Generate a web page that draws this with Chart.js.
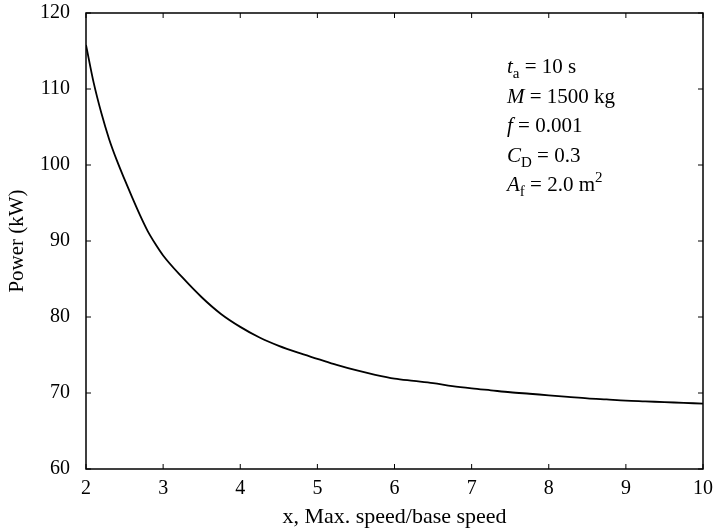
<!DOCTYPE html>
<html>
<head>
<meta charset="utf-8">
<script src="https://cdn.jsdelivr.net/npm/chart.js@4"></script>
<style>
    body { margin: 0; background: #fff; }
    #wrap { width: 713px; height: 528px; }
</style>
</head>
<body>
<div id="wrap"><canvas id="powerChart"></canvas></div>
<script>
// speed ratio (x) and power in kW
const speedRatio = [2, 2.1, 2.2, 2.3, 2.4, 2.5, 2.6, 2.7, 2.8, 2.9, 3, 3.25, 3.5, 3.75, 4, 4.25, 4.5, 4.75,
    5, 5.25, 5.5, 5.75, 6, 6.25, 6.5, 6.75, 7, 7.25, 7.5, 7.75, 8, 8.25, 8.5, 8.75, 9, 9.25, 9.5, 9.75, 10];
const powerKW = [115.8, 110.8, 106.8, 103.4, 100.6, 98.1, 95.7, 93.4, 91.3, 89.6, 88.1, 85.2, 82.6, 80.4, 78.7, 77.3, 76.2, 75.3,
    74.5, 73.7, 73.0, 72.4, 71.9, 71.6, 71.3, 70.9, 70.6, 70.35, 70.1, 69.9, 69.7, 69.5, 69.3, 69.15, 69.0, 68.9, 68.8, 68.7, 68.6];
const xTicks = [2, 3, 4, 5, 6, 7, 8, 9, 10];
const yTicks = [60, 70, 80, 90, 100, 110, 120];

const FONT = "'Liberation Serif', 'DejaVu Serif', serif";

// frame + inward ticks on all four sides
const framePlugin = {
    id: "frame",
    afterDraw(chart) {
        const { ctx, chartArea: a, scales } = chart;
        ctx.save();
        ctx.strokeStyle = "#000";
        ctx.lineWidth = 1.5;
        ctx.strokeRect(a.left, a.top, a.right - a.left, a.bottom - a.top);
        ctx.lineWidth = 1;
        const len = 5;
        ctx.beginPath();
        xTicks.forEach(v => {
            const px = scales.x.getPixelForValue(v);
            ctx.moveTo(px, a.bottom); ctx.lineTo(px, a.bottom - len);
            ctx.moveTo(px, a.top); ctx.lineTo(px, a.top + len);
        });
        yTicks.forEach(v => {
            const py = scales.y.getPixelForValue(v);
            ctx.moveTo(a.left, py); ctx.lineTo(a.left + len, py);
            ctx.moveTo(a.right, py); ctx.lineTo(a.right - len, py);
        });
        ctx.stroke();
        ctx.restore();
    }
};

// parameter block in the upper right
const notePlugin = {
    id: "note",
    afterDraw(chart) {
        const ctx = chart.ctx;
        const lines = [
            [["t", "i"], ["a", "sub"], [" = 10 s", ""]],
            [["M", "i"], [" = 1500 kg", ""]],
            [["f", "i"], [" = 0.001", ""]],
            [["C", "i"], ["D", "sub"], [" = 0.3", ""]],
            [["A", "i"], ["f", "sub"], [" = 2.0 m", ""], ["2", "sup"]]
        ];
        const x0 = 507;
        let y = 73;
        ctx.save();
        ctx.fillStyle = "#000";
        ctx.textBaseline = "alphabetic";
        lines.forEach(parts => {
            let x = x0;
            parts.forEach(([txt, kind]) => {
                let size = 21, dy = 0, style = "";
                if (kind === "i") style = "italic ";
                if (kind === "sub") { size = 15; dy = 5; }
                if (kind === "sup") { size = 15; dy = -9; }
                ctx.font = style + size + "px " + FONT;
                ctx.fillText(txt, x, y + dy);
                x += ctx.measureText(txt).width;
            });
            y += 29.5;
        });
        ctx.restore();
    }
};

document.addEventListener("DOMContentLoaded", function () {
    const ctx = document.getElementById("powerChart").getContext("2d");
    new Chart(ctx, {
        type: "scatter",
        data: {
            datasets: [{
                data: speedRatio.map((v, i) => ({ x: v, y: powerKW[i] })),
                showLine: true,
                borderColor: "#000",
                borderWidth: 1.8,
                pointRadius: 0,
                cubicInterpolationMode: "monotone"
            }]
        },
        options: {
            responsive: true,
            maintainAspectRatio: false,
            animation: false,
            layout: { padding: 0 },
            plugins: { legend: { display: false }, tooltip: { enabled: false } },
            scales: {
                x: {
                    type: "linear",
                    min: 2,
                    max: 10,
                    afterBuildTicks: s => { s.ticks = xTicks.map(v => ({ value: v })); },
                    afterFit: s => { s.height = 59; },
                    grid: { display: false },
                    border: { display: false },
                    ticks: { color: "#000", font: { family: FONT, size: 20 }, padding: 0, maxRotation: 0 },
                    title: { display: true, text: "x, Max. speed/base speed", color: "#000",
                        font: { family: FONT, size: 22 }, padding: { top: 0, bottom: -2 } }
                },
                y: {
                    min: 60,
                    max: 120,
                    afterBuildTicks: s => { s.ticks = yTicks.map(v => ({ value: v })); },
                    afterFit: s => { s.width = 86; },
                    grid: { display: false },
                    border: { display: false },
                    ticks: { color: "#000", font: { family: FONT, size: 20, lineHeight: 0.5 }, padding: 8 },
                    title: { display: true, text: "Power (kW)", color: "#000",
                        font: { family: FONT, size: 21 }, padding: { top: 5, bottom: 0 } }
                }
            }
        },
        plugins: [framePlugin, notePlugin]
    });
});
</script>
</body>
</html>
